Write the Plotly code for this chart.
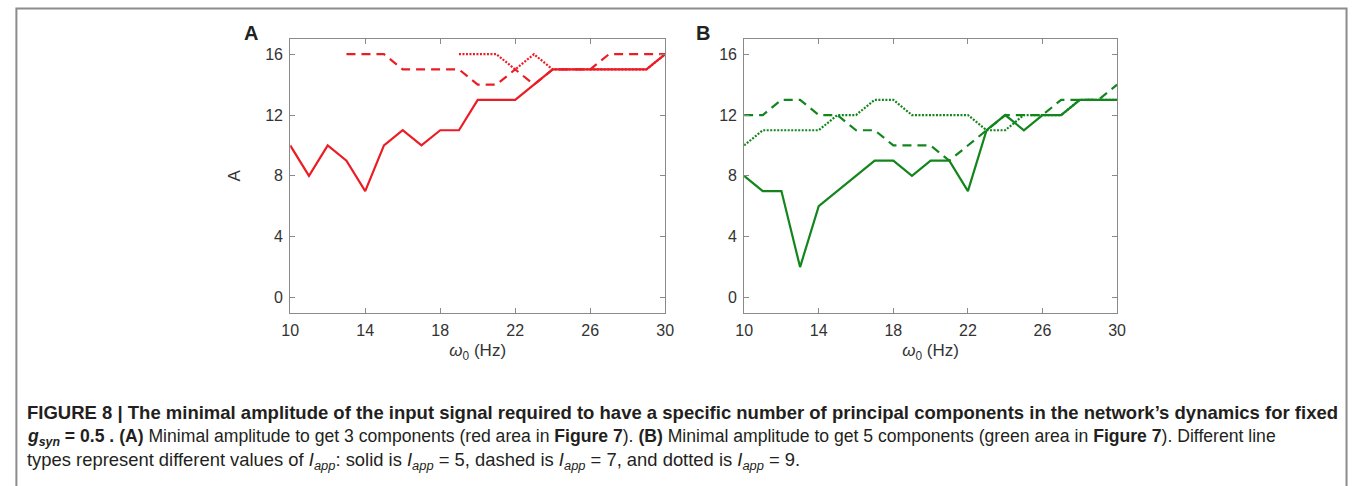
import plotly.graph_objects as go

# ---- data ----
omega = list(range(10, 31))
N = None
# Panel A (3 components)
a_solid = [10, 8, 10, 9, 7, 10, 11, 10, 11, 11, 13, 13, 13, 14, 15, 15, 15, 15, 15, 15, 16]
a_dashed = [N, N, N, 16, 16, 16, 15, 15, 15, 15, 14, 14, 15, 14, 15, 15, 15, 16, 16, 16, 16]
a_dotted = [N, N, N, N, N, N, N, N, N, 16, 16, 16, 15, 16, 15, 15, 15, 15, 15, 15, 16]
# Panel B (5 components)
b_solid = [8, 7, 7, 2, 6, 7, 8, 9, 9, 8, 9, 9, 7, 11, 12, 11, 12, 12, 13, 13, 13]
b_dashed = [12, 12, 13, 13, 12, 12, 11, 11, 10, 10, 10, 9, 10, 11, 12, 12, 12, 13, 13, 13, 14]
b_dotted = [10, 11, 11, 11, 11, 12, 12, 13, 13, 12, 12, 12, 12, 11, 11, 12, 12, 12, 13, 13, 13]

x_ticks = [10, 14, 18, 22, 26, 30]
y_ticks = [0, 4, 8, 12, 16]

RED = "#ec1c24"
GREEN = "#12861c"
W, H = 1358, 486
FONT = "Liberation Sans, Arial, sans-serif"

fig = go.Figure()

def add(xa, ya, ys, color, dash):
    fig.add_trace(go.Scatter(x=omega, y=ys, mode="lines", xaxis=xa, yaxis=ya,
                             line=dict(color=color, width=2.2, dash=dash),
                             connectgaps=False, showlegend=False, hoverinfo="skip"))

add("x", "y", a_dotted, RED, "2px,1.5px")
add("x", "y", a_dashed, RED, "9px,6px")
add("x", "y", a_solid, RED, "solid")
add("x2", "y2", b_dotted, GREEN, "2px,1.5px")
add("x2", "y2", b_dashed, GREEN, "9px,6px")
add("x2", "y2", b_solid, GREEN, "solid")

def px_x(p):
    return p / W

def px_y(p):
    return 1 - p / H

ydom = [px_y(312.7), px_y(39)]
axcommon = dict(showgrid=False, zeroline=False, showline=True, linecolor="#8a8a8a", linewidth=1,
                mirror="ticks", ticks="inside", ticklen=5, tickcolor="#8a8a8a",
                ticklabelstandoff=3,
                tickfont=dict(family=FONT, size=16, color="#333333"))

xtitle = dict(text="<i>ω</i><sub>0</sub> (Hz)", font=dict(family=FONT, size=17, color="#333333"),
              standoff=6)

fig.update_layout(
    width=W, height=H, margin=dict(l=0, r=0, t=0, b=0),
    paper_bgcolor="white", plot_bgcolor="white",
    xaxis=dict(domain=[px_x(285), px_x(665)], range=[10, 30], tickvals=x_ticks, anchor="y",
               title=xtitle, **axcommon),
    yaxis=dict(domain=ydom, range=[-1, 17], tickvals=y_ticks, anchor="x",
               title=dict(text="A", font=dict(family=FONT, size=17, color="#333333"), standoff=20),
               **axcommon),
    xaxis2=dict(domain=[px_x(745), px_x(1123)], range=[10, 30], tickvals=x_ticks, anchor="y2",
                title=xtitle, **axcommon),
    yaxis2=dict(domain=ydom, range=[-1, 17], tickvals=y_ticks, anchor="x2", **axcommon),
)

# frame around the figure
fig.add_shape(type="rect", xref="paper", yref="paper",
              x0=px_x(7.5), x1=px_x(1355.5), y0=-0.02, y1=px_y(8.5),
              line=dict(color="#8c8c8c", width=2), fillcolor="rgba(0,0,0,0)", layer="below")

# panel letters
for letter, xp in [("A", 245), ("B", 703)]:
    fig.add_annotation(text=f"<b>{letter}</b>", xref="paper", yref="paper",
                       x=px_x(xp), y=px_y(33), xanchor="center", yanchor="middle", showarrow=False,
                       font=dict(family=FONT, size=20, color="#222222"))

cap1 = "<b>FIGURE 8 | The minimal amplitude of the input signal required to have a specific number of principal components in the network’s dynamics for fixed</b>"
cap2 = ("<b><i>g<sub>syn</sub></i> = 0.5 . (A)</b> Minimal amplitude to get 3 components (red area in <b>Figure 7</b>). "
        "<b>(B)</b> Minimal amplitude to get 5 components (green area in <b>Figure 7</b>). Different line")
cap3 = ("types represent different values of <i>I<sub>app</sub></i>: solid is <i>I<sub>app</sub></i> = 5, "
        "dashed is <i>I<sub>app</sub></i> = 7, and dotted is <i>I<sub>app</sub></i> = 9.")
for txt, yp, fs in [(cap1, 412, 18.5), (cap2, 437, 17.6), (cap3, 461, 18.4)]:
    fig.add_annotation(text=txt, xref="paper", yref="paper", x=px_x(16), y=px_y(yp),
                       xanchor="left", yanchor="middle", showarrow=False,
                       font=dict(family=FONT, size=fs, color="#231f20"), align="left")

fig.write_html("out.html", config={"displayModeBar": False},
               post_script="document.documentElement.style.margin='0';document.documentElement.style.overflow='hidden';"
                           "document.body.style.margin='0';document.body.style.overflow='hidden';")
